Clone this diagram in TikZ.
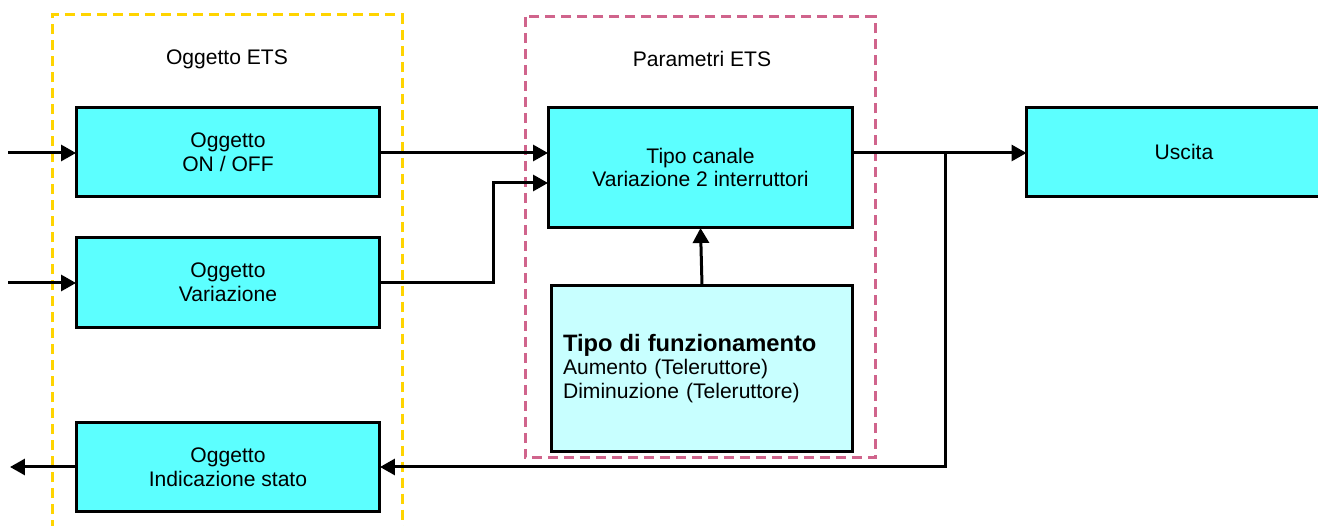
\documentclass[tikz,border=0pt]{standalone}
\usepackage{fontspec}
\setmainfont{Liberation Sans}
\usetikzlibrary{arrows.meta}
\definecolor{boxcyan}{HTML}{5CFFFF}
\definecolor{paramcyan}{HTML}{C8FFFF}
\definecolor{etsyellow}{HTML}{FFD400}
\definecolor{etspink}{HTML}{D0648C}
\begin{document}
\begin{tikzpicture}[x=0.02cm, y=-0.02cm,
    blk/.style={draw, line width=0.06cm, fill=boxcyan, align=center, inner sep=0pt, outer sep=0pt,
        minimum width=6.08cm, minimum height=1.8cm, font=\fontsize{12}{13.4}\selectfont},
    frame/.style={line width=0.06cm, dash pattern=on 0.2cm off 0.12cm},
    conn/.style={line width=0.06cm, -{Triangle[length=0.3cm, width=0.32cm]}}]
    \useasboundingbox (0,0) rectangle (1318,526);
    \clip (0,0) rectangle (1318,526);

    % dashed groups
    \draw[frame, etsyellow] (52,530) -- (52,15) -- (402,15) -- (402,530);
    \draw[frame, etspink] (525,17) rectangle (875,458);
    \node[font=\fontsize{12}{13.4}\selectfont] (ogglabel) at (227,59) {Oggetto ETS};
    \node[font=\fontsize{12}{13.4}\selectfont] (parlabel) at (702,59) {Parametri ETS};

    \node[blk] (onoff) at (228,152) {Oggetto\\ON / OFF};
    \node[blk] (variaz) at (228,282.5) {Oggetto\\Variazione};
    \node[blk] (stato) at (228,467) {Oggetto\\Indicazione stato};
    \node[blk, minimum width=6.1cm, minimum height=2.42cm] (canale) at (700.5,167.5) {Tipo canale\\Variazione 2 interruttori};
    \node[blk, fill=paramcyan, minimum width=6.04cm, minimum height=3.34cm, inner xsep=0.24cm,
        text width=5.56cm, align=left] (funz) at (702,368.5)
        {{\fontsize{13.5}{13.4}\selectfont\bfseries Tipo di funzionamento}\\Aumento (Teleruttore)\\Diminuzione (Teleruttore)};
    \node[blk, minimum width=6.3cm] (uscita) at (1184,152) {Uscita};

    \coordinate (in1) at (8,153);
    \coordinate (in2) at (8,283);
    \coordinate (out1) at (10,467);
    \coordinate (bend) at (493,183);
    \coordinate (split) at (945,153);

    \draw[conn] (in1) -- (onoff.west |- in1);
    \draw[conn] (in2) -- (variaz.west |- in2);
    \draw[conn] (stato.west) -- (out1);
    \draw[conn] (onoff.east |- in1) -- (canale.west |- in1);
    \draw[conn] (variaz.east) -| (bend) -- (canale.west |- bend);
    \draw[conn] (funz.north) -- (canale.south);
    \draw[conn] (canale.east |- split) -- (uscita.west |- split);
    \draw[conn] (split) |- (stato.east);
\end{tikzpicture}
\end{document}
